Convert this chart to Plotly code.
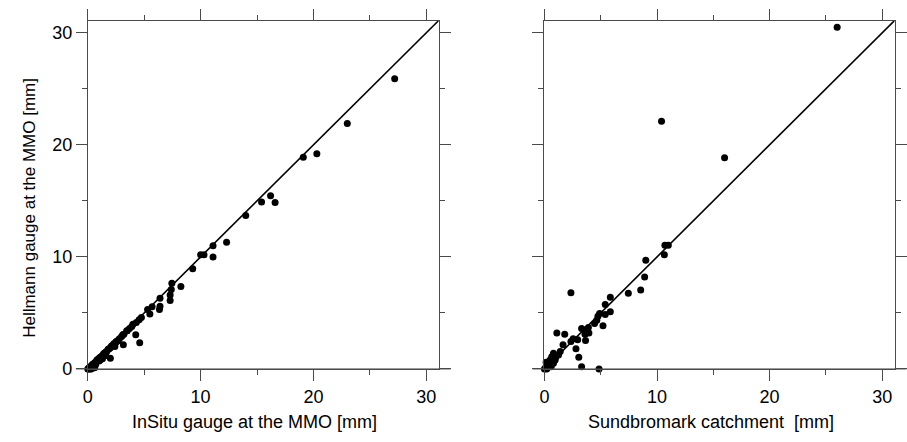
import plotly.graph_objects as go

# ---------------- data ----------------
AXMAX = 31.1
tick_vals = [0, 10, 20, 30]
tick_text = ["0", "10", "20", "30"]
minor_vals = [5, 15, 25]

# Left panel: InSitu gauge (x) vs Hellmann gauge (y)
insitu_x = [27.2, 23.0, 19.1, 20.3, 16.2, 16.6, 15.4, 14.0, 12.3, 11.1, 11.1, 10.0, 10.3,
            9.3, 8.25, 7.45, 7.4, 7.3, 7.3, 6.4, 6.4, 6.35, 5.7, 5.3, 5.5, 4.75, 4.55, 4.3,
            4.0, 4.25, 4.6, 3.45, 3.1, 2.7, 2.5, 3.15, 2.0,
            0.0, 0.05, 0.1, 0.15, 0.2, 0.3, 0.3, 0.4, 0.5, 0.5, 0.6, 0.7, 0.7, 0.8, 0.9,
            1.0, 1.0, 1.1, 1.2, 1.3, 1.3, 1.4, 1.5, 1.6, 1.7, 1.8, 1.9, 2.0, 2.1, 2.2,
            2.3, 2.5, 2.6, 2.8, 3.0, 3.2, 3.5, 3.7, 3.9, 0.2, 0.3, 0.6, 1.6, 2.4, 1.1]
hellmann_l = [25.9, 21.9, 18.9, 19.2, 15.45, 14.85, 14.9, 13.7, 11.3, 11.0, 10.0, 10.2, 10.2,
              8.95, 7.35, 7.65, 7.1, 6.6, 6.1, 6.3, 5.6, 5.3, 5.55, 5.3, 4.9, 4.6, 4.4, 4.15,
              4.0, 3.05, 2.35, 3.4, 3.05, 2.55, 2.4, 2.15, 0.95,
              0.0, 0.0, 0.1, 0.05, 0.2, 0.25, 0.1, 0.4, 0.45, 0.2, 0.55, 0.6, 0.4, 0.8, 0.85,
              0.95, 0.7, 1.05, 1.1, 1.2, 0.9, 1.35, 1.45, 1.5, 1.6, 1.75, 1.8, 1.9, 2.05, 2.1,
              2.25, 2.4, 2.5, 2.7, 2.9, 3.1, 3.4, 3.6, 3.8, 0.0, 0.0, 0.1, 1.2, 2.0, 0.8]

# Right panel: Sundbromark catchment (x) vs Hellmann gauge (y)
sund_x = [26.0, 10.4, 16.0, 10.7, 11.0, 10.65, 9.0, 8.9, 8.55, 7.45, 5.85, 5.4, 5.85, 5.4,
          4.9, 4.75, 4.65, 4.45, 5.2, 3.9, 3.65, 3.3, 3.6, 3.95, 2.35, 1.1, 1.8, 2.55, 2.95,
          2.35, 3.65, 1.65, 2.8, 3.05, 3.3, 4.85, 1.4, 1.25, 0.8, 0.65, 0.5, 0.4, 0.25, 0.1,
          0.95, 0.8, 0.0, 0.2, 0.5, 0.3, 0.6, 1.0, 0.15]
hellmann_r = [30.5, 22.1, 18.85, 11.05, 11.05, 10.2, 9.7, 8.2, 7.05, 6.75, 6.4, 5.75, 5.1, 4.85,
              4.95, 4.7, 4.35, 4.05, 3.85, 3.7, 3.5, 3.6, 3.1, 3.2, 6.8, 3.2, 3.1, 2.7, 2.6,
              2.45, 2.55, 2.15, 1.8, 1.05, 0.2, 0.0, 1.55, 1.25, 1.4, 1.1, 0.8, 0.65, 0.35, 0.1,
              0.8, 0.5, 0.0, 0.0, 0.3, 0.5, 0.2, 1.05, 0.6]

one_to_one = [0, AXMAX]

# ---------------- figure ----------------
W, H = 907, 442
FONT = "Liberation Sans, Arial, Helvetica, sans-serif"
AXC = "#4a4a4a"

fig = go.Figure()
marker = dict(color="black", size=7, line=dict(width=0))

fig.add_trace(go.Scatter(x=one_to_one, y=one_to_one, mode="lines",
                         line=dict(color="black", width=1.6), xaxis="x", yaxis="y",
                         hoverinfo="skip", cliponaxis=False))
fig.add_trace(go.Scatter(x=insitu_x, y=hellmann_l, mode="markers", marker=marker,
                         xaxis="x", yaxis="y", cliponaxis=False))
fig.add_trace(go.Scatter(x=one_to_one, y=one_to_one, mode="lines",
                         line=dict(color="black", width=1.6), xaxis="x2", yaxis="y2",
                         hoverinfo="skip", cliponaxis=False))
fig.add_trace(go.Scatter(x=sund_x, y=hellmann_r, mode="markers", marker=marker,
                         xaxis="x2", yaxis="y2", cliponaxis=False))


def axis(domain, anchor, labels=True):
    return dict(domain=domain, anchor=anchor, range=[0, AXMAX],
                showline=True, linecolor=AXC, linewidth=1, mirror="ticks",
                ticks="outside", ticklen=11, tickwidth=1, tickcolor=AXC,
                tickvals=tick_vals, ticktext=tick_text, showticklabels=labels,
                minor=dict(tickvals=minor_vals, ticks="outside", ticklen=5,
                           tickwidth=1, tickcolor=AXC),
                showgrid=False, zeroline=False,
                tickfont=dict(family=FONT, size=18, color="black"))


xl = [84 / W, 440 / W]
xr = [547.3 / W, 902.5 / W]
yd = [1 - 377.5 / H, 1 - 21 / H]

fig.update_layout(
    width=W, height=H, margin=dict(l=0, r=0, t=0, b=0),
    paper_bgcolor="white", plot_bgcolor="white", showlegend=False,
    font=dict(family=FONT, color="black"),
    xaxis=axis(xl, "y"), yaxis=axis(yd, "x"),
    xaxis2=axis(xr, "y2"), yaxis2=axis(yd, "x2", labels=False),
)

# bottom axis line overshoot (decoration)
for xref, yref in [("x domain", "y domain"), ("x2 domain", "y2 domain")]:
    fig.add_shape(type="line", xref=xref, yref=yref, x0=-0.034, x1=1.034, y0=0, y1=0,
                  line=dict(color=AXC, width=1))

title_font = dict(family=FONT, size=18, color="black")
fig.add_annotation(text="InSitu gauge at the MMO [mm]", xref="paper", yref="paper",
                   x=253 / W, y=1 - 432 / H, xanchor="center", yanchor="middle",
                   showarrow=False, font=title_font)
fig.add_annotation(text="Sundbromark catchment  [mm]", xref="paper", yref="paper",
                   x=716 / W, y=1 - 432 / H, xanchor="center", yanchor="middle",
                   showarrow=False, font=title_font)
fig.add_annotation(text="Hellmann gauge at the MMO [mm]", xref="paper", yref="paper",
                   x=25 / W, y=1 - 213 / H, xanchor="center", yanchor="middle",
                   textangle=-90, showarrow=False,
                   font=dict(family=FONT, size=17, color="black"))

post = (
    "document.documentElement.style.margin='0';"
    "document.documentElement.style.overflow='hidden';"
    "document.body.style.margin='0';"
    "document.body.style.overflow='hidden';"
    "var d=document.getElementsByClassName('plotly-graph-div')[0];"
    "d.style.position='fixed';d.style.left='0px';d.style.top='0px';"
)
fig.write_html("out.html", config={"displayModeBar": False}, post_script=post)
